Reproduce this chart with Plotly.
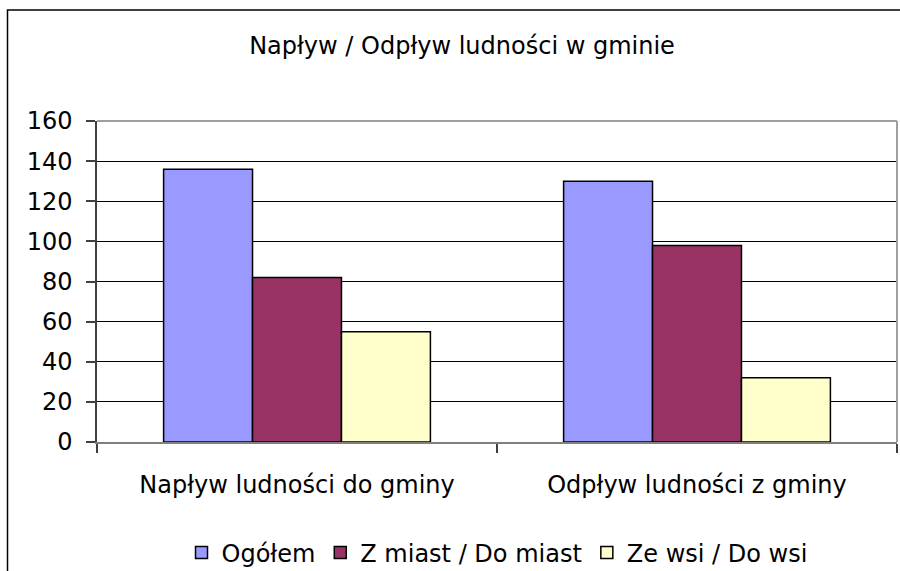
import plotly.graph_objects as go

categories = ["Napływ ludności do gminy", "Odpływ ludności z gminy"]
series_names = ["Ogółem", "Z miast / Do miast", "Ze wsi / Do wsi"]
ogolem = [136, 130]
z_miast = [82, 98]
ze_wsi = [55, 32]
y_ticks = [0, 20, 40, 60, 80, 100, 120, 140, 160]
title_text = "Napływ / Odpływ ludności w gminie"

colors = ["#9999FF", "#993366", "#FFFFCC"]
FONT = "DejaVu Sans, Verdana, sans-serif"

fig = go.Figure()
for name, vals, col in zip(series_names, [ogolem, z_miast, ze_wsi], colors):
    fig.add_trace(go.Bar(
        x=categories, y=vals, name=name,
        marker=dict(color=col, line=dict(color="#000000", width=1.5)),
    ))

W, H = 900, 571
L, R, T, B = 97, 3, 121, 129
pw, ph = W - L - R, H - T - B

def px_x(x):
    return (x - L) / pw

def px_y(y):
    return (H - B - y) / ph

fig.update_layout(
    width=W, height=H,
    margin=dict(l=L, r=R, t=T, b=B, pad=0, autoexpand=False),
    paper_bgcolor="white", plot_bgcolor="white",
    font=dict(family=FONT, size=24, color="#000000"),
    title=dict(text=title_text, x=462 / W, xanchor="center",
               y=1 - 46 / H, yanchor="middle",
               font=dict(family=FONT, size=24, color="#000000")),
    barmode="group", bargap=0.333, bargroupgap=0,
    showlegend=True,
    legend=dict(orientation="h", x=px_x(497), xanchor="center",
                y=px_y(553), yanchor="middle",
                font=dict(family=FONT, size=24, color="#000000"),
                bgcolor="rgba(0,0,0,0)", traceorder="normal"),
    xaxis=dict(
        type="category", showgrid=False, showline=True,
        linecolor="#808080", linewidth=1.5,
        ticks="outside", tickson="boundaries", ticklen=9,
        tickcolor="#404040", tickwidth=1.5,
        ticklabelstandoff=20, automargin=False,
        tickfont=dict(family=FONT, size=24, color="#000000"),
    ),
    yaxis=dict(
        range=[0, 160], tickvals=y_ticks, ticktext=[str(v) for v in y_ticks],
        showgrid=True, gridcolor="#000000", gridwidth=1,
        zeroline=False, showline=True, linecolor="#404040", linewidth=1.5,
        ticks="outside", ticklen=9, tickcolor="#404040", tickwidth=1.5,
        ticklabelstandoff=9, automargin=False,
        tickfont=dict(family=FONT, size=24, color="#000000"),
    ),
    shapes=[
        # outer chart border
        dict(type="rect", xref="paper", yref="paper",
             x0=px_x(7.5), x1=px_x(917), y0=px_y(640), y1=px_y(10),
             line=dict(color="#000000", width=1.5), fillcolor="rgba(0,0,0,0)",
             layer="above"),
        # plot area top border
        dict(type="line", xref="paper", yref="paper",
             x0=0, x1=1, y0=1, y1=1,
             line=dict(color="#808080", width=1.5), layer="above"),
        # plot area right border
        dict(type="line", xref="paper", yref="paper",
             x0=1, x1=1, y0=0, y1=1,
             line=dict(color="#A0A0A0", width=2), layer="above"),
    ],
)

fig.write_html(
    "out.html",
    config={"displayModeBar": False},
    post_script="document.body.style.margin='0';document.body.style.overflow='hidden';",
)
